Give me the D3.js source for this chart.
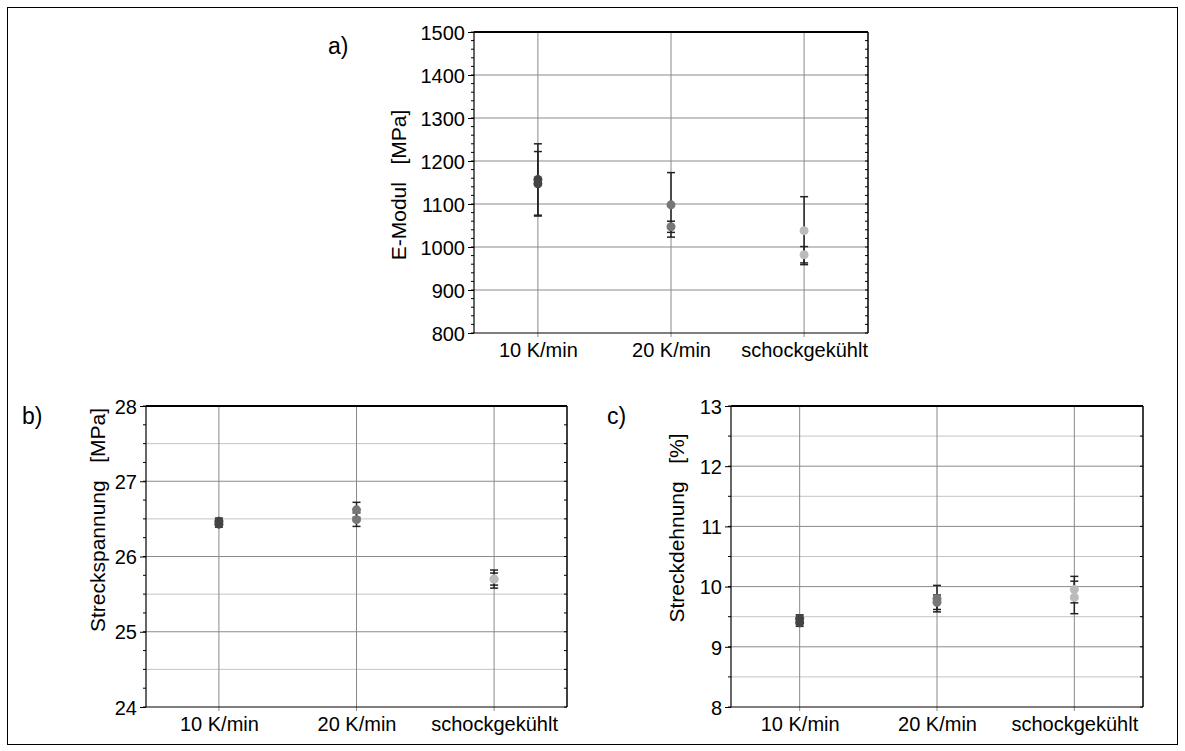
<!DOCTYPE html>
<html><head><meta charset="utf-8">
<script src="https://cdn.jsdelivr.net/npm/d3@7"></script>
<style>body{margin:0;background:#fff}svg text{font-family:"Liberation Sans",Arial,sans-serif;fill:#000}</style>
</head><body><svg id="c" width="1185" height="751"></svg>
<script>
const categories = ["10 K/min", "20 K/min", "schockgekühlt"];
const pointColors = ["#444444", "#777777", "#bbbbbb"];
// Panel a: E-Modul [MPa], two specimens per category: [value, error]
const eModulVals = [[1157, 1147], [1098, 1047], [1038, 982]];
const eModulErr = [[83, 75], [75, 13], [79, 19]];
const eModulTicks = [800, 900, 1000, 1100, 1200, 1300, 1400, 1500];
// Panel b: Streckspannung [MPa]
const spannungVals = [[26.47, 26.43], [26.62, 26.49], [25.70, 25.70]];
const spannungErr = [[0.04, 0.04], [0.10, 0.09], [0.08, 0.12]];
const spannungTicks = [24, 25, 26, 27, 28];
// Panel c: Streckdehnung [%]
const dehnungVals = [[9.47, 9.40], [9.80, 9.74], [9.95, 9.82]];
const dehnungErr = [[0.06, 0.06], [0.22, 0.12], [0.22, 0.27]];
const dehnungTicks = [8, 9, 10, 11, 12, 13];

const svg = d3.select("#c");
svg.append("rect").attr("x",7.5).attr("y",7.5).attr("width",1170).attr("height",737)
  .attr("fill","none").attr("stroke","#000").attr("stroke-width",1);

function panel(o){
  const g = svg.append("g");
  const x = d3.scalePoint().domain(categories).range([o.x0,o.x1]).padding(o.pad);
  const y = d3.scaleLinear().domain(o.dom).range([o.y1,o.y0]);
  o.grid.forEach(v=>{
    g.append("line").attr("x1",o.x0).attr("x2",o.x1).attr("y1",y(v)).attr("y2",y(v))
      .attr("stroke", o.ticks.includes(v)?"#8a8a8a":"#c4c4c4").attr("stroke-width",1);
  });
  categories.forEach(c=>{
    g.append("line").attr("x1",x(c)).attr("x2",x(c)).attr("y1",o.y0).attr("y2",o.y1+4)
      .attr("stroke","#8a8a8a").attr("stroke-width",1);
  });
  o.minor.forEach(v=>{
    g.append("line").attr("x1",o.x0-3).attr("x2",o.x0).attr("y1",y(v)).attr("y2",y(v)).attr("stroke","#000");
    g.append("line").attr("x1",o.x1).attr("x2",o.x1-3).attr("y1",y(v)).attr("y2",y(v)).attr("stroke","#000");
  });
  const ya = d3.axisLeft(y).tickValues(o.ticks).tickSize(6).tickPadding(3).tickFormat(d3.format("d"));
  const yg = g.append("g").attr("transform",`translate(${o.x0},0)`).call(ya);
  yg.select(".domain").remove();
  yg.selectAll("text").style("font-size","20px").attr("dy","0.36em");
  yg.selectAll("line").attr("stroke","#000");
  const xa = d3.axisBottom(x).tickSize(0).tickPadding(10);
  const xg = g.append("g").attr("transform",`translate(0,${o.y1})`).call(xa);
  xg.select(".domain").remove();
  xg.selectAll("text").style("font-size","20px").attr("dy","0.72em");
  g.append("line").attr("x1",o.x0).attr("x2",o.x0).attr("y1",o.y0).attr("y2",o.y1).attr("stroke","#000").attr("stroke-width",1.2);
  g.append("line").attr("x1",o.x0).attr("x2",o.x1).attr("y1",o.y1).attr("y2",o.y1).attr("stroke","#000").attr("stroke-width",1.2);
  g.append("line").attr("x1",o.x0).attr("x2",o.x1).attr("y1",o.y0).attr("y2",o.y0).attr("stroke","#000").attr("stroke-width",2);
  g.append("line").attr("x1",o.x1).attr("x2",o.x1).attr("y1",o.y0).attr("y2",o.y1).attr("stroke","#000").attr("stroke-width",1.5);
  categories.forEach((c,i)=>{
    o.vals[i].forEach((v,j)=>{
      const e = o.errs[i][j], cx = x(c);
      g.append("line").attr("x1",cx).attr("x2",cx).attr("y1",y(v+e)).attr("y2",y(v-e)).attr("stroke","#222").attr("stroke-width",1.5);
      [v+e,v-e].forEach(w=>g.append("line").attr("x1",cx-4).attr("x2",cx+4).attr("y1",y(w)).attr("y2",y(w)).attr("stroke","#222").attr("stroke-width",1.5));
    });
    o.vals[i].forEach(v=>{
      g.append("circle").attr("cx",x(c)).attr("cy",y(v)).attr("r",4.5).attr("fill",pointColors[i]);
    });
  });
  g.append("text").attr("transform",`translate(${o.tx},${o.ty}) rotate(-90)`)
    .attr("text-anchor","middle").style("font-size","21px").style("white-space","pre").text(o.title);
  g.append("text").attr("x",o.lx).attr("y",o.ly).style("font-size","23px").text(o.label);
}

const range = (a,b,s)=>d3.range(Math.round((b-a)/s)+1).map(i=>+(a+i*s).toFixed(4));

panel({x0:474,x1:868,y0:32,y1:333,pad:0.48,dom:[800,1500],ticks:eModulTicks,
  grid:eModulTicks.slice(1,-1),minor:range(800,1500,20),vals:eModulVals,errs:eModulErr,
  title:"E-Modul   [MPa]",tx:406,ty:185,label:"a)",lx:328,ly:54});
panel({x0:146,x1:567,y0:406,y1:707,pad:0.53,dom:[24,28],ticks:spannungTicks,
  grid:range(24.5,27.5,0.5),minor:range(24,28,0.25),vals:spannungVals,errs:spannungErr,
  title:"Streckspannung   [MPa]",tx:105,ty:520,label:"b)",lx:22,ly:424});
panel({x0:731,x1:1143,y0:406,y1:707,pad:0.5,dom:[8,13],ticks:dehnungTicks,
  grid:range(8.5,12.5,0.5),minor:range(8,13,0.5),vals:dehnungVals,errs:dehnungErr,
  title:"Streckdehnung   [%]",tx:684,ty:528,label:"c)",lx:607,ly:424});
</script></body></html>
